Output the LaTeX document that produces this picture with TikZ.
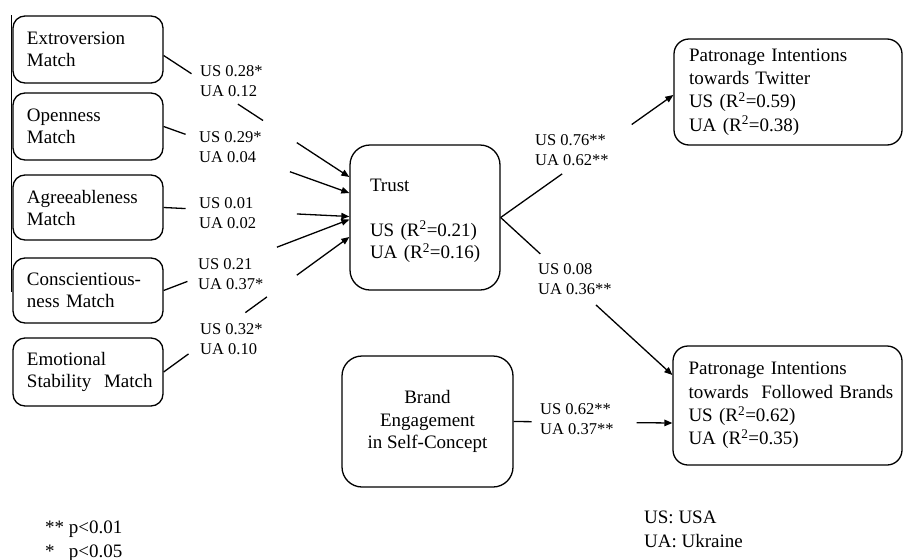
\documentclass[tikz,border=0pt]{standalone}
\usepackage{fontspec}
\setmainfont{Liberation Serif}
\usetikzlibrary{arrows.meta,calc}
\begin{document}
\begin{tikzpicture}[x=1pt,y=-1pt,
  lbox/.style={draw, line width=1.3pt, rounded corners=12pt, inner xsep=14pt, inner ysep=0pt,
    minimum width=150pt, text width=122pt, align=left, font=\fontsize{19}{22}\selectfont},
  rbox/.style={draw, line width=1.3pt, rounded corners=15pt, inner xsep=15pt, inner ysep=0pt,
    text width=198pt, align=left, font=\fontsize{19}{23.3}\selectfont},
  cbox/.style={draw, line width=1.3pt, rounded corners=20pt, inner sep=0pt,
    font=\fontsize{19}{22.5}\selectfont},
  lab/.style={inner sep=0pt, anchor=west, align=left, font=\fontsize{16.5}{20}\selectfont},
  leg/.style={inner sep=0pt, anchor=west, align=left, font=\fontsize{19}{23.5}\selectfont},
  conn/.style={line width=1.3pt},
  arr/.style={line width=1.3pt, -{Triangle[length=8pt,width=6.5pt]}}
]
\useasboundingbox (0,0) rectangle (903,560);

% left margin rule seen in the figure
\draw[line width=1pt] (11,15) -- (11,292);

% left boxes
\node[lbox, minimum height=67pt] (ext) at (88,49.5) {Extroversion\\Match};
\node[lbox, minimum height=67pt] (opn) at (88,126.5) {Openness\\Match};
\node[lbox, minimum height=65pt] (agr) at (88,207.5) {Agreeableness\\Match};
\node[lbox, minimum height=65pt] (con) at (88,290.5) {\mbox{Conscientious-}\\ness Match};
\node[lbox, minimum height=68pt] (emo) at (88,372) {Emotional\\\mbox{Stability\ \ Match}};

% trust
\node[cbox, minimum width=150pt, minimum height=145pt, inner xsep=20pt, text width=110pt, align=left]
  (trust) at (425,217.5) {\rule{0pt}{19pt}Trust\\~\\\mbox{US (R\textsuperscript{2}=0.21)}\\\mbox{UA (R\textsuperscript{2}=0.16)}};

% brand engagement
\node[cbox, minimum width=171pt, minimum height=131pt, align=center]
  (brand) at (427.5,421.5) {Brand\\Engagement\\in Self-Concept};

% right boxes
\node[rbox, minimum width=228pt, minimum height=106pt] (twt) at (788,92)
  {\mbox{Patronage Intentions}\\towards Twitter\\US (R\textsuperscript{2}=0.59)\\UA (R\textsuperscript{2}=0.38)};
\node[rbox, minimum width=229pt, minimum height=119pt] (fol) at (787.5,405.5)
  {\mbox{Patronage Intentions}\\\mbox{towards\ \ Followed Brands}\\US (R\textsuperscript{2}=0.62)\\UA (R\textsuperscript{2}=0.35)};

% path labels
\node[lab] (l1) at (200,81.4) {US 0.28*\\UA 0.12};
\node[lab] (l2) at (199,147.4) {US 0.29*\\UA 0.04};
\node[lab] (l3) at (199,213.4) {US 0.01\\UA 0.02};
\node[lab] (l4) at (198,274.4) {US 0.21\\UA 0.37*};
\node[lab] (l5) at (200,339.4) {US 0.32*\\UA 0.10};
\node[lab] (r1) at (535,150.4) {US 0.76**\\UA 0.62**};
\node[lab] (r2) at (538,279.4) {US 0.08\\UA 0.36**};
\node[lab] (r3) at (540,419.4) {US 0.62**\\UA 0.37**};

% legends
\node[leg] (sig) at (45,541) {** p<0.01\\*\phantom{*} p<0.05};
\node[leg] (ctry) at (644,529.2) {US: USA\\UA: Ukraine};

% connectors: personality matches -> trust
\coordinate (s1) at ($(ext.east)+(0,6)$);
\coordinate (t1) at ($(trust.west)+(0,-40.5)$);
\draw[conn] (s1) -- ($(s1)!0.15!(t1)$);
\draw[conn] ($(s1)!0.40!(t1)$) -- ($(s1)!0.535!(t1)$);
\draw[arr] ($(s1)!0.717!(t1)$) -- (t1);

\coordinate (s2) at (opn.east);
\coordinate (t2) at ($(trust.west)+(0,-24.5)$);
\draw[conn] (s2) -- ($(s2)!0.118!(t2)$);
\draw[arr] ($(s2)!0.68!(t2)$) -- (t2);

\coordinate (s3) at (agr.east);
\coordinate (t3) at ($(trust.west)+(0,-1)$);
\draw[conn] (s3) -- ($(s3)!0.118!(t3)$);
\draw[arr] ($(s3)!0.717!(t3)$) -- (t3);

\coordinate (s4) at (con.east);
\coordinate (t4) at ($(trust.west)+(0,2)$);
\draw[conn] (s4) -- ($(s4)!0.128!(t4)$);
\draw[arr] ($(s4)!0.61!(t4)$) -- (t4);

\coordinate (s5) at (emo.east);
\coordinate (t5) at ($(trust.west)+(0,19.5)$);
\draw[conn] (s5) -- ($(s5)!0.134!(t5)$);
\draw[conn] ($(s5)!0.44!(t5)$) -- ($(s5)!0.556!(t5)$);
\draw[arr] ($(s5)!0.717!(t5)$) -- (t5);

% trust -> outcomes
\coordinate (t6) at ($(twt.west)+(0,3)$);
\draw[conn] (trust.east) -- ($(trust.east)!0.356!(t6)$);
\draw[arr] ($(trust.east)!0.759!(t6)$) -- (t6);

\coordinate (t7) at ($(fol.west)+(0,-30.5)$);
\draw[conn] (trust.east) -- ($(trust.east)!0.231!(t7)$);
\draw[arr] ($(trust.east)!0.555!(t7)$) -- (t7);

% brand engagement -> followed brands
\coordinate (t8) at ($(fol.west)+(0,17.5)$);
\draw[conn] (brand.east) -- ($(brand.east)!0.1125!(t8)$);
\draw[arr] ($(brand.east)!0.775!(t8)$) -- (t8);
\end{tikzpicture}
\end{document}
